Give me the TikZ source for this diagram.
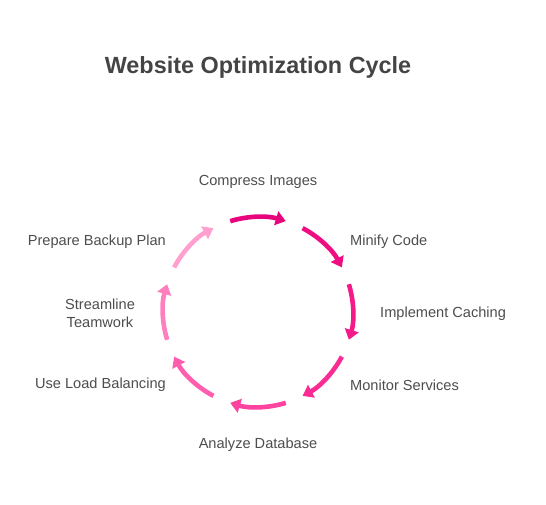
\documentclass[tikz,border=0pt]{standalone}
\usepackage{fontspec}
\setmainfont{Liberation Sans}
\usepackage{tikz}
\usetikzlibrary{arrows.meta,calc,positioning}
\definecolor{labelgray}{RGB}{77,77,77}
\definecolor{titlegray}{RGB}{68,68,68}
\definecolor{pinka}{RGB}{232,4,124}
\definecolor{pinkb}{RGB}{238,14,130}
\definecolor{pinkc}{RGB}{244,26,138}
\definecolor{pinkd}{RGB}{250,44,148}
\definecolor{pinke}{RGB}{253,66,160}
\definecolor{pinkf}{RGB}{255,94,174}
\definecolor{pinkg}{RGB}{255,126,190}
\definecolor{pinkh}{RGB}{255,160,206}

\begin{document}
\begin{tikzpicture}[x=1pt, y=1pt,
    cyclearrow/.style={line width=4.6pt, -{Triangle[length=10pt,width=14pt]}},
    steplabel/.style={font=\fontsize{14.6}{18}\selectfont, text=labelgray, inner sep=0pt, align=center}]
    \useasboundingbox (0,0) rectangle (546,-504);
    \coordinate (C) at (258,-312);

    % Title
    \node[font=\bfseries\fontsize{23.4}{28}\selectfont, text=titlegray] (title) at (258,-67) {Website Optimization Cycle};

    % Eight arcs round the circle, darkest at the top
    \draw[cyclearrow, pinka] ($(C)+(107:95pt)$) arc[start angle=107, end angle=73, radius=95pt];
    \draw[cyclearrow, pinkb] ($(C)+(62:95pt)$) arc[start angle=62, end angle=28, radius=95pt];
    \draw[cyclearrow, pinkc] ($(C)+(17:95pt)$) arc[start angle=17, end angle=-17, radius=95pt];
    \draw[cyclearrow, pinkd] ($(C)+(-28:95pt)$) arc[start angle=-28, end angle=-62, radius=95pt];
    \draw[cyclearrow, pinke] ($(C)+(-73:95pt)$) arc[start angle=-73, end angle=-107, radius=95pt];
    \draw[cyclearrow, pinkf] ($(C)+(-118:95pt)$) arc[start angle=-118, end angle=-152, radius=95pt];
    \draw[cyclearrow, pinkg] ($(C)+(-163:95pt)$) arc[start angle=-163, end angle=-197, radius=95pt];
    \draw[cyclearrow, pinkh] ($(C)+(-208:95pt)$) arc[start angle=-208, end angle=-242, radius=95pt];

    % Step labels
    \node[steplabel] (compress) at (258,-182) {Compress Images};
    \node[steplabel, anchor=west] (minify) at (350,-242) {Minify Code};
    \node[steplabel, anchor=west] (caching) at (380,-314) {Implement Caching};
    \node[steplabel, anchor=west] (monitor) at (350,-385) {Monitor Services};
    \node[steplabel] (database) at (258,-445) {Analyze Database};
    \node[steplabel, anchor=east] (loadbal) at (166,-385) {Use Load Balancing};
    \node[steplabel] (teamwork) at (100,-313) {Streamline\\Teamwork};
    \node[steplabel, anchor=east] (backup) at (166,-242) {Prepare Backup Plan};
\end{tikzpicture}
\end{document}
